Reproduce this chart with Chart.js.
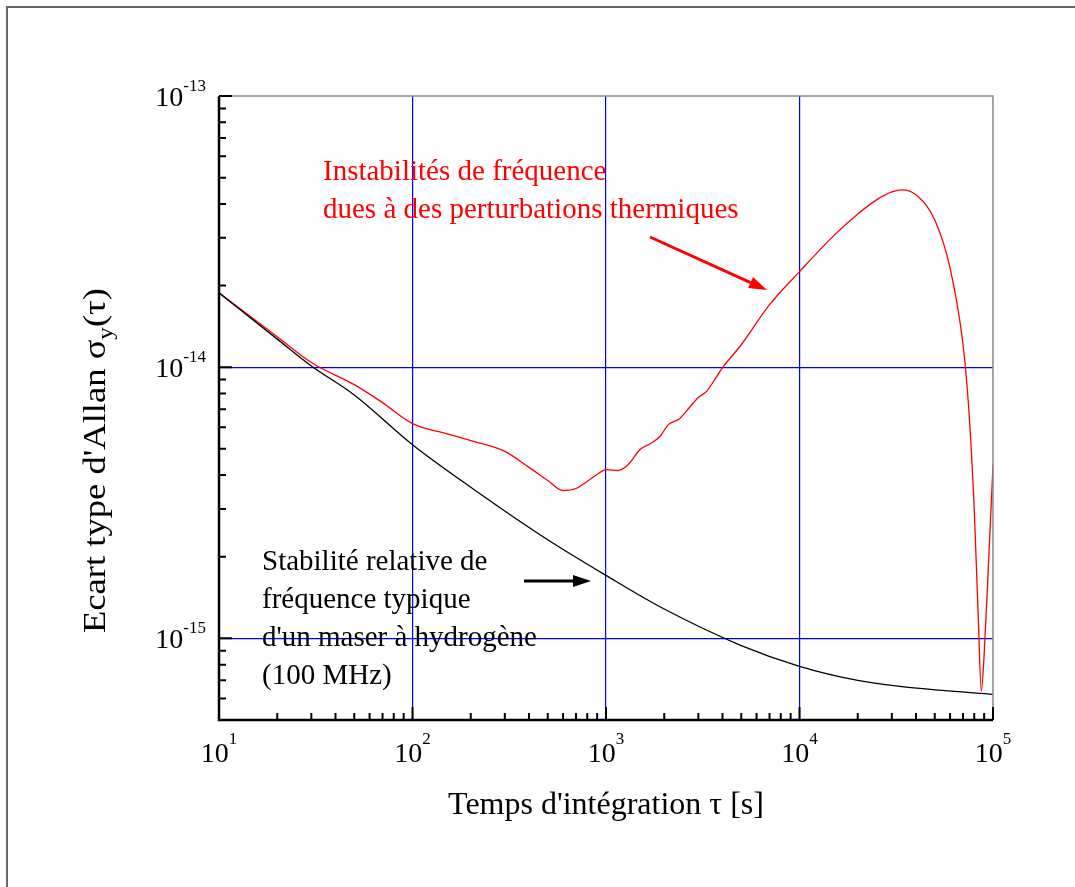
<!DOCTYPE html>
<html>
<head>
<meta charset="utf-8">
<script src="https://cdn.jsdelivr.net/npm/chart.js@4"></script>
<style>
  html, body { margin: 0; padding: 0; background: #fff; }
</style>
</head>
<body>
<canvas id="myChart" width="1075" height="887"></canvas>
<script>
// Courbe noire : stabilité typique d'un maser à hydrogène
const tauBlack = [10, 20, 30, 50, 100, 200, 500, 1000, 2000, 5000, 1e4, 2e4, 3.3e4, 5e4, 1e5];
const sigmaBlack = [1.88e-14, 1.269e-14, 1.01e-14, 7.90e-15, 5.18e-15, 3.61e-15, 2.31e-15, 1.707e-15,
                    1.283e-15, 9.41e-16, 7.89e-16, 7.0e-16, 6.65e-16, 6.46e-16, 6.22e-16];

// Courbe rouge : instabilités dues aux perturbations thermiques
const tauRed = [10, 20, 30, 50, 70, 100, 150, 200, 300, 400, 500, 600, 700, 800, 900, 1000,
                1150, 1300, 1500, 1700, 1900, 2100, 2400, 2700, 3000, 3300, 3700, 4000, 5000, 7000,
                1e4, 1.5e4, 2e4, 2.5e4, 3e4, 3.4e4, 4e4, 5e4, 6e4, 7e4, 7.5e4, 8e4, 8.4e4, 8.7e4,
                9.0e4, 9.4e4, 1e5];
const sigmaRed = [1.88e-14, 1.295e-14, 1.04e-14, 8.62e-15, 7.40e-15, 6.19e-15, 5.69e-15, 5.36e-15,
                  4.89e-15, 4.27e-15, 3.82e-15, 3.51e-15, 3.57e-15, 3.79e-15, 4.02e-15, 4.19e-15,
                  4.16e-15, 4.37e-15, 4.97e-15, 5.23e-15, 5.55e-15, 6.14e-15, 6.46e-15, 7.10e-15,
                  7.73e-15, 8.13e-15, 9.15e-15, 9.96e-15, 1.21e-14, 1.70e-14, 2.25e-14, 3.05e-14,
                  3.67e-14, 4.14e-14, 4.43e-14, 4.51e-14, 4.32e-14, 3.49e-14, 2.32e-14, 1.21e-14,
                  6.97e-15, 2.99e-15, 1.17e-15, 6.38e-16, 8.73e-16, 1.65e-15, 4.37e-15];

// Graduations
const xMin = 10, xMax = 1e5;
const yMin = 5e-16, yMax = 1e-13;
const xDecades = [1, 2, 3, 4, 5];
const yDecades = [-15, -14, -13];

const redLines = ['Instabilités de fréquence', 'dues à des perturbations thermiques'];
const blackLines = ['Stabilité relative de', 'fréquence typique', "d'un maser à hydrogène", '(100 MHz)'];

const serif = "'Liberation Serif', 'Times New Roman', serif";

function toPoints(xs, ys) {
    return xs.map((x, i) => ({ x: x, y: ys[i] }));
}

function arrow(ctx, x1, y1, x2, y2, color) {
    const a = Math.atan2(y2 - y1, x2 - x1);
    const len = 18, half = 6;
    const bx = x2 - len * Math.cos(a), by = y2 - len * Math.sin(a);
    ctx.strokeStyle = color;
    ctx.fillStyle = color;
    ctx.lineWidth = 3;
    ctx.beginPath();
    ctx.moveTo(x1, y1);
    ctx.lineTo(bx, by);
    ctx.stroke();
    ctx.beginPath();
    ctx.moveTo(x2, y2);
    ctx.lineTo(bx + half * Math.sin(a), by - half * Math.cos(a));
    ctx.lineTo(bx - half * Math.sin(a), by + half * Math.cos(a));
    ctx.closePath();
    ctx.fill();
}

// Dessine axes, ticks internes, étiquettes 10^n et annotations
const decorPlugin = {
    id: 'decor',
    afterDraw(chart) {
        const ctx = chart.ctx;
        const xs = chart.scales.x, ys = chart.scales.y;
        const a = chart.chartArea;
        ctx.save();

        // cadre extérieur
        ctx.strokeStyle = '#666';
        ctx.lineWidth = 2;
        ctx.beginPath();
        ctx.moveTo(7, 887);
        ctx.lineTo(7, 7);
        ctx.lineTo(1075, 7);
        ctx.stroke();

        // bords haut / droite gris
        ctx.strokeStyle = '#888';
        ctx.lineWidth = 1.5;
        ctx.beginPath();
        ctx.moveTo(a.left, a.top);
        ctx.lineTo(a.right, a.top);
        ctx.lineTo(a.right, a.bottom);
        ctx.stroke();

        // axes noirs
        ctx.strokeStyle = '#000';
        ctx.lineWidth = 2.5;
        ctx.beginPath();
        ctx.moveTo(a.left, a.top);
        ctx.lineTo(a.left, a.bottom);
        ctx.lineTo(a.right, a.bottom);
        ctx.stroke();

        // ticks
        ctx.lineWidth = 2;
        ctx.beginPath();
        for (let d = 0; d <= 5; d++) {
            for (let m = 1; m <= 9; m++) {
                const v = m * Math.pow(10, d);
                if (v < xMin || v > xMax) continue;
                const px = xs.getPixelForValue(v);
                const len = m === 1 ? 13 : 7;
                ctx.moveTo(px, a.bottom);
                ctx.lineTo(px, a.bottom - len);
            }
        }
        for (let d = -16; d <= -13; d++) {
            for (let m = 1; m <= 9; m++) {
                const v = m * Math.pow(10, d);
                if (v < yMin * 0.999 || v > yMax * 1.001) continue;
                const py = ys.getPixelForValue(v);
                const len = m === 1 ? 13 : 7;
                ctx.moveTo(a.left, py);
                ctx.lineTo(a.left + len, py);
            }
        }
        ctx.stroke();

        // étiquettes
        ctx.fillStyle = '#000';
        const big = '28px ' + serif, small = '17px ' + serif;
        ctx.textBaseline = 'alphabetic';
        xDecades.forEach(e => {
            const px = xs.getPixelForValue(Math.pow(10, e));
            ctx.font = big;
            const w1 = ctx.measureText('10').width;
            ctx.font = small;
            const w2 = ctx.measureText(String(e)).width;
            const x0 = px - (w1 + w2) / 2;
            ctx.font = big;
            ctx.textAlign = 'left';
            ctx.fillText('10', x0, 762);
            ctx.font = small;
            ctx.fillText(String(e), x0 + w1, 744);
        });
        yDecades.forEach(e => {
            const py = ys.getPixelForValue(Math.pow(10, e));
            ctx.font = small;
            ctx.textAlign = 'right';
            const w2 = ctx.measureText(String(e)).width;
            ctx.fillText(String(e), 206, py - 5);
            ctx.font = big;
            ctx.fillText('10', 206 - w2, py + 10);
        });

        // titre axe x
        ctx.font = '32px ' + serif;
        ctx.textAlign = 'center';
        ctx.fillText("Temps d'intégration τ [s]", 606, 814);

        // titre axe y (avec indice), étiré pour couvrir la même longueur
        ctx.save();
        ctx.translate(105, 633);
        ctx.rotate(-Math.PI / 2);
        ctx.textAlign = 'left';
        const partA = "Ecart type d'Allan σ";
        const bigT = '32px ' + serif, subT = '22px ' + serif;
        ctx.font = bigT;
        let wA = ctx.measureText(partA).width, wC = ctx.measureText('(τ)').width;
        ctx.font = subT;
        let wB = ctx.measureText('y').width;
        const k = 345 / (wA + wB + wC);
        ctx.scale(k, 1);
        ctx.font = bigT;
        ctx.fillText(partA, 0, 0);
        ctx.font = subT;
        ctx.fillText('y', wA, 7);
        ctx.font = bigT;
        ctx.fillText('(τ)', wA + wB, 0);
        ctx.restore();

        // annotations
        ctx.textAlign = 'left';
        ctx.font = '29px ' + serif;
        ctx.fillStyle = '#ff0000';
        redLines.forEach((t, i) => ctx.fillText(t, 323, 180 + i * 38));
        ctx.fillStyle = '#000';
        blackLines.forEach((t, i) => ctx.fillText(t, 262, 570 + i * 38));

        arrow(ctx, 650, 237, 767, 290, '#ff0000');
        arrow(ctx, 524, 581, 591, 581, '#000');

        ctx.restore();
    }
};

const ctx = document.getElementById('myChart').getContext('2d');
const myChart = new Chart(ctx, {
    type: 'line',
    data: {
        datasets: [
            {
                label: 'Maser H',
                data: toPoints(tauBlack, sigmaBlack),
                borderColor: '#000',
                borderWidth: 1.3,
                pointRadius: 0,
                cubicInterpolationMode: 'monotone',
                fill: false
            },
            {
                label: 'Perturbations thermiques',
                data: toPoints(tauRed, sigmaRed),
                borderColor: '#ff0000',
                borderWidth: 1.3,
                pointRadius: 0,
                cubicInterpolationMode: 'monotone',
                fill: false
            }
        ]
    },
    options: {
        responsive: false,
        animation: false,
        layout: { padding: { left: 0, top: 96, right: 82, bottom: 0 } },
        plugins: {
            legend: { display: false },
            tooltip: { enabled: false }
        },
        scales: {
            x: {
                type: 'logarithmic',
                min: xMin,
                max: xMax,
                afterBuildTicks: s => { s.ticks = xDecades.map(e => ({ value: Math.pow(10, e) })); },
                afterFit: s => { s.height = 887 - 720; },
                ticks: { display: false },
                border: { display: false },
                grid: {
                    drawTicks: false,
                    lineWidth: 1.2,
                    color: c => (c.tick && c.tick.value > xMin * 1.01 && c.tick.value < xMax * 0.99) ? '#0000ff' : 'rgba(0,0,0,0)'
                }
            },
            y: {
                type: 'logarithmic',
                min: yMin,
                max: yMax,
                afterBuildTicks: s => { s.ticks = yDecades.map(e => ({ value: Math.pow(10, e) })); },
                afterFit: s => { s.width = 219; },
                ticks: { display: false },
                border: { display: false },
                grid: {
                    drawTicks: false,
                    lineWidth: 1.2,
                    color: c => (c.tick && c.tick.value < yMax * 0.99) ? '#0000ff' : 'rgba(0,0,0,0)'
                }
            }
        }
    },
    plugins: [decorPlugin]
});
</script>
</body>
</html>
